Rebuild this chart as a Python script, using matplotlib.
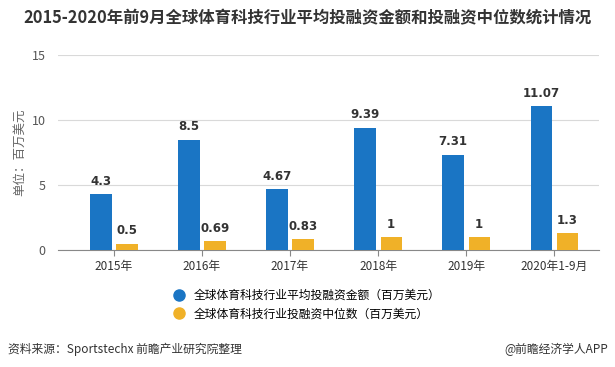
import matplotlib.pyplot as plt
import numpy as np
from matplotlib.lines import Line2D

plt.rcParams['font.family'] = ['Noto Sans CJK SC', 'DejaVu Sans']

categories = ["2015年", "2016年", "2017年", "2018年", "2019年", "2020年1-9月"]
avg_amount = [4.3, 8.5, 4.67, 9.39, 7.31, 11.07]
median_amount = [0.5, 0.69, 0.83, 1, 1, 1.3]
avg_labels = ["4.3", "8.5", "4.67", "9.39", "7.31", "11.07"]
median_labels = ["0.5", "0.69", "0.83", "1", "1", "1.3"]
series_names = ["全球体育科技行业平均投融资金额（百万美元）",
                "全球体育科技行业投融资中位数（百万美元）"]

blue = "#1a75c4"
orange = "#f0b128"

fig = plt.figure(figsize=(6.15, 3.67), dpi=100)
ax = fig.add_axes([58 / 615, 1 - 250 / 367, (599 - 58) / 615, (250 - 55) / 367])

x = np.arange(len(categories))
w = 0.24
off = 0.148
ax.bar(x - off, avg_amount, width=w, color=blue, zorder=3)
ax.bar(x + off, median_amount, width=w, color=orange, zorder=3)

for xi, v, t in zip(x, avg_amount, avg_labels):
    ax.text(xi - off, v + 0.5, t, ha="center", va="bottom", fontsize=8.5,
            fontweight="bold", color="#333333", family="DejaVu Sans")
for xi, v, t in zip(x, median_amount, median_labels):
    ax.text(xi + off, v + 0.5, t, ha="center", va="bottom", fontsize=8.5,
            fontweight="bold", color="#333333", family="DejaVu Sans")

ax.set_xlim(-0.636, 5.51)
ax.set_ylim(0, 15)
ax.set_yticks([0, 5, 10, 15])
ax.set_xticks(x)
ax.set_xticklabels(categories)
ax.tick_params(axis="x", length=4, color="#888888", labelsize=8.5,
               labelcolor="#333333", pad=3)
ax.tick_params(axis="y", length=0, labelsize=9, labelcolor="#555555", pad=9)
ax.grid(axis="y", color="#d9d9d9", linewidth=0.8, zorder=0)
for s in ["top", "right", "left"]:
    ax.spines[s].set_visible(False)
ax.spines["bottom"].set_color("#888888")
ax.set_ylabel("单位：百万美元", fontsize=9, color="#666666")
ax.yaxis.set_label_coords(-0.058, 0.5)

fig.text(0.5, 1 - 18 / 367, "2015-2020年前9月全球体育科技行业平均投融资金额和投融资中位数统计情况",
         ha="center", va="center", fontsize=11.8, fontweight="bold", color="#333333")

handles = [Line2D([], [], marker="o", linestyle="none", markersize=8,
                  markerfacecolor=c, markeredgecolor=c) for c in (blue, orange)]
fig.legend(handles, series_names, loc="upper left",
           bbox_to_anchor=(167 / 615, 1 - 289 / 367), frameon=False,
           fontsize=8.5, handletextpad=0.3, labelspacing=0.45,
           borderaxespad=0, borderpad=0)

fig.text(8 / 615, 1 - 349 / 367, "资料来源：Sportstechx 前瞻产业研究院整理",
         ha="left", va="center", fontsize=8.5, color="#333333")
fig.text(608 / 615, 1 - 349 / 367, "@前瞻经济学人APP",
         ha="right", va="center", fontsize=8.5, color="#333333")

fig.savefig("out.png", dpi=100)
